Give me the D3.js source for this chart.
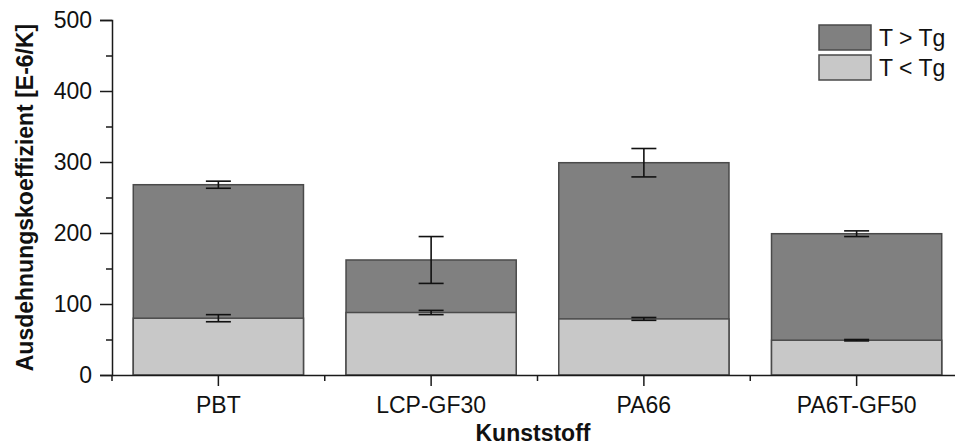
<!DOCTYPE html>
<html>
<head>
<meta charset="utf-8">
<script src="https://cdn.jsdelivr.net/npm/d3@7"></script>
<style>
  body { margin: 0; background: #fff; }
  text { font-family: "Liberation Sans", Arial, sans-serif; fill: #111; }
</style>
</head>
<body>
<svg id="chart" width="955" height="448"></svg>
<script>
// data
const categories = ['PBT', 'LCP-GF30', 'PA66', 'PA6T-GF50'];
const aboveTg = [268, 162, 299, 199];
const aboveTgErr = [5, 33, 20, 4];
const belowTg = [80, 88, 79, 49];
const belowTgErr = [5, 3, 2, 1];
const yTicks = [0, 100, 200, 300, 400, 500];
const yMinorTicks = [50, 150, 250, 350, 450];

const svg = d3.select('#chart');
const fontSize = 23;

const x = d3.scaleBand()
  .domain(categories)
  .range([112, 963])
  .paddingInner(0.2)
  .paddingOuter(0.1);
const y = d3.scaleLinear()
  .domain([0, 500])
  .range([375, 20]);

const step = x.step();
const centre = c => x(c) + x.bandwidth() / 2;

// bars: high temperature bar behind, low temperature bar in front
const bars = svg.append('g');
bars.selectAll('.above')
  .data(categories)
  .enter().append('rect')
  .attr('class', 'above')
  .attr('x', d => x(d))
  .attr('width', x.bandwidth())
  .attr('y', (d, i) => y(aboveTg[i]))
  .attr('height', (d, i) => y(0) - y(aboveTg[i]))
  .attr('fill', '#808080')
  .attr('stroke', '#4a4a4a')
  .attr('stroke-width', 1.5);

bars.selectAll('.below')
  .data(categories)
  .enter().append('rect')
  .attr('class', 'below')
  .attr('x', d => x(d))
  .attr('width', x.bandwidth())
  .attr('y', (d, i) => y(belowTg[i]))
  .attr('height', (d, i) => y(0) - y(belowTg[i]))
  .attr('fill', '#c8c8c8')
  .attr('stroke', '#4a4a4a')
  .attr('stroke-width', 1.5);

// error bars
function errorBars(vals, errs) {
  const g = svg.append('g').attr('stroke', '#111').attr('stroke-width', 1.6).attr('fill', 'none');
  categories.forEach((c, i) => {
    const cx = centre(c);
    const hi = y(vals[i] + errs[i]);
    const lo = y(vals[i] - errs[i]);
    g.append('line').attr('x1', cx).attr('x2', cx).attr('y1', hi).attr('y2', lo);
    g.append('line').attr('x1', cx - 12.5).attr('x2', cx + 12.5).attr('y1', hi).attr('y2', hi);
    g.append('line').attr('x1', cx - 12.5).attr('x2', cx + 12.5).attr('y1', lo).attr('y2', lo);
  });
}
errorBars(aboveTg, aboveTgErr);
errorBars(belowTg, belowTgErr);

// y axis
const yAxis = svg.append('g')
  .attr('transform', 'translate(112,0)')
  .call(d3.axisLeft(y).tickValues(yTicks).tickSize(12).tickPadding(8));
yAxis.select('.domain').attr('stroke', '#1a1a1a').attr('stroke-width', 1.5);
yAxis.selectAll('.tick line').attr('stroke', '#1a1a1a').attr('stroke-width', 1.5);
yAxis.selectAll('.tick text').attr('font-size', fontSize).attr('fill', '#111');

const yMinor = svg.append('g')
  .attr('transform', 'translate(112,0)')
  .call(d3.axisLeft(y).tickValues(yMinorTicks).tickSize(6).tickFormat(''));
yMinor.select('.domain').remove();
yMinor.selectAll('.tick line').attr('stroke', '#1a1a1a').attr('stroke-width', 1.5);

// x axis
const xAxis = svg.append('g')
  .attr('transform', 'translate(0,375)')
  .call(d3.axisBottom(x).tickSize(11).tickPadding(11).tickSizeOuter(0));
xAxis.select('.domain').attr('stroke', '#1a1a1a').attr('stroke-width', 1.5);
xAxis.selectAll('.tick line').attr('stroke', '#1a1a1a').attr('stroke-width', 1.5);
xAxis.selectAll('.tick text').attr('font-size', fontSize).attr('fill', '#111');

// minor ticks between categories and at axis start
const xMinor = svg.append('g').attr('stroke', '#1a1a1a').attr('stroke-width', 1.5);
const minorX = [x.range()[0]].concat(categories.slice(1).map(c => x(c) - (step - x.bandwidth()) / 2));
minorX.forEach(px => {
  xMinor.append('line').attr('x1', px).attr('x2', px).attr('y1', 375).attr('y2', 381);
});

// axis titles
svg.append('text')
  .attr('x', 533)
  .attr('y', 441)
  .attr('text-anchor', 'middle')
  .attr('font-size', fontSize)
  .attr('font-weight', 'bold')
  .text('Kunststoff');

svg.append('text')
  .attr('transform', 'translate(33,' + (y(250)) + ') rotate(-90)')
  .attr('text-anchor', 'middle')
  .attr('font-size', fontSize)
  .attr('font-weight', 'bold')
  .text('Ausdehnungskoeffizient [E-6/K]');

// legend
const legendItems = [
  { label: 'T > Tg', fill: '#808080' },
  { label: 'T < Tg', fill: '#c8c8c8' }
];
const legend = svg.append('g').attr('transform', 'translate(819,25)');
legendItems.forEach((d, i) => {
  const g = legend.append('g').attr('transform', 'translate(0,' + (i * 30) + ')');
  g.append('rect')
    .attr('width', 52)
    .attr('height', 25)
    .attr('fill', d.fill)
    .attr('stroke', '#4a4a4a')
    .attr('stroke-width', 1.5);
  g.append('text')
    .attr('x', 60)
    .attr('y', 21)
    .attr('font-size', fontSize)
    .text(d.label);
});
</script>
</body>
</html>
